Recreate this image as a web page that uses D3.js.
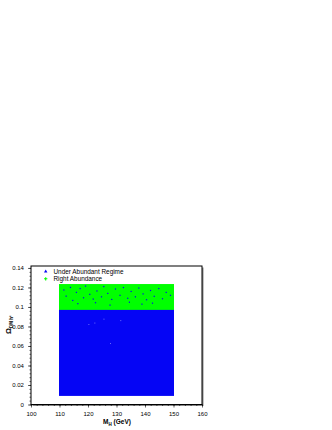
<!DOCTYPE html>
<html lang="en">
<head>
  <meta charset="UTF-8" />
  <title>Relic abundance vs Higgs mass</title>
  <style>
  body {
    margin: 0;
    background: #fff;
  }
  svg {
    display: block;
    font-family: "Liberation Sans", sans-serif;
  }
  </style>
  <script src="https://d3js.org/d3.v7.min.js"></script>
</head>
<body>
  <div id="chart"></div>
  <script>
    // series and their scanned regions (mH in GeV, omega h^2)
    const seriesNames = ["Under Abundant Regime", "Right Abundance"];
    const seriesColors = ["#0505f5", "#00ff00"];
    const underRegion = [110, 150, 0.0088, 0.0985];
    const rightRegion = [110, 150, 0.0970, 0.1235];

    // blue points that fall inside the green band
    const strayMH = [111.5, 112.3, 113.8, 114.6, 115.9, 117.2, 118.4, 119.1, 120.6, 121.8,
                     123.1, 124.7, 125.5, 126.9, 128.3, 129.6, 131.2, 132.4, 133.9, 135.1,
                     136.6, 137.8, 139.3, 140.5, 141.9, 143.2, 144.8, 146.1, 147.4, 148.9,
                     116.4, 122.6, 127.7, 134.5, 138.9, 142.6];
    const strayOmega = [0.1175, 0.1112, 0.1201, 0.1068, 0.1150, 0.1190, 0.1095, 0.1215, 0.1130, 0.1082,
                        0.1165, 0.1105, 0.1210, 0.1140, 0.1078, 0.1185, 0.1120, 0.1200, 0.1090, 0.1160,
                        0.1105, 0.1195, 0.1135, 0.1075, 0.1170, 0.1110, 0.1190, 0.1085, 0.1150, 0.1120,
                        0.1035, 0.1045, 0.1020, 0.1050, 0.1030, 0.1040];

    // empty spots inside the blue band
    const holeMH = [122.4, 125.6, 127.9, 120.3, 131.5];
    const holeOmega = [0.0835, 0.0875, 0.0625, 0.0820, 0.0860];

    const xTicks = [100, 110, 120, 130, 140, 150, 160];
    const yTicks = [0, 0.02, 0.04, 0.06, 0.08, 0.1, 0.12, 0.14];

    const width = 332, height = 430;
    const svg = d3.select("#chart").append("svg")
      .attr("width", width)
      .attr("height", height);

    const x = d3.scaleLinear().domain([100, 160]).range([31, 202]);
    const y = d3.scaleLinear().domain([0, 0.142]).range([404.5, 266]);

    // shadow and frame
    svg.append("rect")
      .attr("x", x(100) + 1.5).attr("y", y(0.142) + 1.5)
      .attr("width", x(160) - x(100)).attr("height", y(0) - y(0.142))
      .attr("fill", "#888");
    svg.append("rect")
      .attr("x", x(100)).attr("y", y(0.142))
      .attr("width", x(160) - x(100)).attr("height", y(0) - y(0.142))
      .attr("fill", "#fff").attr("stroke", "#000").attr("stroke-width", 1);

    // dense scan regions
    function band(r, color) {
      svg.append("rect")
        .attr("x", x(r[0]) - 0.5).attr("y", y(r[3]))
        .attr("width", x(r[1]) - x(r[0]) + 1).attr("height", y(r[2]) - y(r[3]))
        .attr("fill", color);
    }
    band(underRegion, seriesColors[0]);
    band(rightRegion, seriesColors[1]);

    svg.selectAll(".stray")
      .data(d3.zip(strayMH, strayOmega))
      .enter().append("rect")
      .attr("class", "stray")
      .attr("x", d => x(d[0]) - 0.5).attr("y", d => y(d[1]) - 0.5)
      .attr("width", 1.2).attr("height", 1.2)
      .attr("fill", seriesColors[0]);

    svg.selectAll(".hole")
      .data(d3.zip(holeMH, holeOmega))
      .enter().append("rect")
      .attr("class", "hole")
      .attr("x", d => x(d[0]) - 0.5).attr("y", d => y(d[1]) - 0.5)
      .attr("width", 1).attr("height", 1)
      .attr("fill", "#6a6aff");

    // axes, ticks outside
    const xAxis = d3.axisBottom(x).tickValues(xTicks).tickSize(3).tickFormat(d3.format("d"));
    const gx = svg.append("g").attr("transform", `translate(0,${y(0)})`).call(xAxis);
    const gxMinor = svg.append("g").attr("transform", `translate(0,${y(0)})`)
      .call(d3.axisBottom(x).tickValues(d3.range(100, 161, 2)).tickSize(1.5).tickFormat(""));

    const yAxis = d3.axisLeft(y).tickValues(yTicks).tickSize(3).tickFormat(d => d === 0 ? "0" : d3.format("")(+d.toFixed(2)));
    const gy = svg.append("g").attr("transform", `translate(${x(100)},0)`).call(yAxis);
    const gyMinor = svg.append("g").attr("transform", `translate(${x(100)},0)`)
      .call(d3.axisLeft(y).tickValues(d3.range(0, 0.1405, 0.004)).tickSize(1.5).tickFormat(""));

    [gx, gxMinor, gy, gyMinor].forEach(g => {
      g.select(".domain").remove();
      g.selectAll("line").attr("stroke", "#000").attr("stroke-width", 0.6);
    });
    gx.selectAll("text").attr("font-size", 6).attr("dy", "0.95em").attr("fill", "#000");
    gy.selectAll("text").attr("font-size", 6).attr("dx", "-0.2em").attr("fill", "#000");

    // axis titles
    const xt = svg.append("text")
      .attr("x", 117).attr("y", 424)
      .attr("text-anchor", "middle")
      .attr("font-size", 6.5).attr("font-weight", "bold");
    xt.append("tspan").text("M");
    xt.append("tspan").attr("font-size", 4.5).attr("dy", 1.5).text("H");
    xt.append("tspan").attr("dy", -1.5).text(" (GeV)");

    const yt = svg.append("text")
      .attr("transform", "translate(11,334) rotate(-90)")
      .attr("font-size", 7.5).attr("font-weight", "bold");
    yt.append("tspan").text("\u03A9");
    yt.append("tspan").attr("font-size", 4.5).attr("dy", 1.5).text("DM h\u00B2");

    // legend
    const legend = svg.append("g");
    seriesNames.forEach((name, i) => {
      const ly = 271.5 + i * 7.3;
      if (i === 0) {
        legend.append("path")
          .attr("d", d3.symbol(d3.symbolTriangle, 5)())
          .attr("transform", `translate(45.7,${ly})`)
          .attr("fill", seriesColors[i]);
      } else {
        legend.append("path")
          .attr("d", d3.symbol(d3.symbolCross, 6)())
          .attr("transform", `translate(45.7,${ly})`)
          .attr("fill", seriesColors[i]);
      }
      legend.append("text")
        .attr("x", 53.5).attr("y", ly + 2)
        .attr("font-size", 6.4)
        .attr("fill", "#000")
        .text(name);
    });
  </script>
</body>
</html>
